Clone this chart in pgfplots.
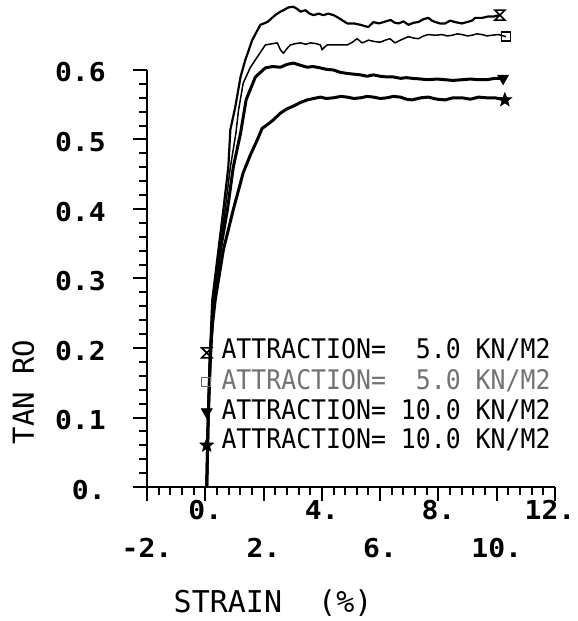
\documentclass[border=0pt]{standalone}
\usepackage{fontspec}
\setmainfont{DejaVu Sans Mono}
\newfontfamily\tickfont{DejaVu Sans Mono}[FakeStretch=1.08]
\newfontfamily\legfont{DejaVu Sans Mono}[FakeStretch=0.92]
\usepackage{pgfplots}
\pgfplotsset{compat=1.18}

\pgfdeclareplotmark{hourglass}{%
  \pgfpathmoveto{\pgfqpoint{-\pgfplotmarksize}{\pgfplotmarksize}}%
  \pgfpathlineto{\pgfqpoint{\pgfplotmarksize}{\pgfplotmarksize}}%
  \pgfpathlineto{\pgfqpoint{-\pgfplotmarksize}{-\pgfplotmarksize}}%
  \pgfpathlineto{\pgfqpoint{\pgfplotmarksize}{-\pgfplotmarksize}}%
  \pgfpathclose
  \pgfusepathqstroke}
\pgfdeclareplotmark{fstar}{%
  \pgfpathmoveto{\pgfpointpolar{90}{\pgfplotmarksize}}%
  \pgfpathlineto{\pgfpointpolar{126}{0.42\pgfplotmarksize}}%
  \pgfpathlineto{\pgfpointpolar{162}{\pgfplotmarksize}}%
  \pgfpathlineto{\pgfpointpolar{198}{0.42\pgfplotmarksize}}%
  \pgfpathlineto{\pgfpointpolar{234}{\pgfplotmarksize}}%
  \pgfpathlineto{\pgfpointpolar{270}{0.42\pgfplotmarksize}}%
  \pgfpathlineto{\pgfpointpolar{306}{\pgfplotmarksize}}%
  \pgfpathlineto{\pgfpointpolar{342}{0.42\pgfplotmarksize}}%
  \pgfpathlineto{\pgfpointpolar{18}{\pgfplotmarksize}}%
  \pgfpathlineto{\pgfpointpolar{54}{0.42\pgfplotmarksize}}%
  \pgfpathclose
  \pgfusepathqfillstroke}

\begin{document}
\begin{tikzpicture}
\begin{axis}[
  at={(0,0)}, anchor=south west,
  scale only axis, width=408bp, height=417bp,
  xmin=-2, xmax=12, ymin=0, ymax=0.6,
  axis lines=left,
  axis line style={-, line width=2.5bp},
  clip=false,
  tick align=outside,
  major tick length=14bp, minor tick length=8bp,
  every tick/.style={black, line width=2bp},
  xtick={0,4,8,12}, xticklabels={0.,4.,8.,\kern-10bp 12.},
  extra x ticks={-2,2,6,10}, extra x tick labels={-2.,2.,6.,10.},
  extra x tick style={xticklabel style={yshift=-38bp}},
  minor xtick={-2,-1.6,...,12},
  ytick={0,0.1,0.2,0.3,0.4,0.5,0.6},
  yticklabels={0.,0.1,0.2,0.3,0.4,0.5,0.6},
  minor y tick num=4,
  ticklabel style={font=\tickfont\bfseries\fontsize{26bp}{28bp}\selectfont, inner sep=0pt},
  xticklabel style={anchor=base, yshift=-18bp},
  yticklabel style={anchor=base east, xshift=-27bp, yshift=-12bp},
  xlabel={STRAIN\ \ (\%)},
  xlabel style={at={(rel axis cs:0.309,-0.2998)}, anchor=base, inner sep=0pt, font=\fontsize{30bp}{32bp}\selectfont},
  ylabel={TAN RO},
  ylabel style={at={(rel axis cs:-0.277,0.228)}, anchor=base, inner sep=0pt, font=\fontsize{29bp}{31bp}\selectfont},
]
% curve 1 (hourglass)
\addplot[black, line width=2.2bp, line join=round] coordinates {
(0.05,0) (0.1,0.1) (0.15,0.18) (0.2,0.23) (0.24,0.269) (0.45,0.341) (0.62,0.399)
(0.79,0.46) (0.86,0.514) (1.03,0.547) (1.21,0.59) (1.37,0.614) (1.61,0.643)
(1.89,0.665) (2.13,0.669) (2.40,0.679) (2.58,0.684) (2.68,0.686) (2.85,0.690)
(3.02,0.691) (3.15,0.688) (3.27,0.684) (3.44,0.686) (3.58,0.681) (3.71,0.679)
(3.90,0.681) (4.05,0.679) (4.22,0.681) (4.40,0.679) (4.57,0.675) (4.72,0.671)
(4.87,0.667) (5.10,0.667) (5.33,0.665) (5.48,0.663) (5.60,0.662) (5.77,0.669)
(5.95,0.667) (6.12,0.669) (6.36,0.672) (6.50,0.668) (6.64,0.667) (6.80,0.670)
(6.97,0.665) (7.15,0.668) (7.31,0.669) (7.48,0.673) (7.65,0.675) (7.78,0.671)
(7.89,0.669) (8.05,0.667) (8.23,0.667) (8.40,0.671) (8.57,0.669) (8.80,0.667)
(8.99,0.669) (9.15,0.671) (9.26,0.675) (9.50,0.675) (9.71,0.677) (9.90,0.677) (10.11,0.679)
};
% curve 2 (square)
\addplot[black, line width=1.5bp, line join=round] coordinates {
(0.05,0) (0.1,0.1) (0.16,0.18) (0.22,0.23) (0.27,0.269) (0.50,0.341) (0.68,0.399)
(0.86,0.46) (1.05,0.509) (1.14,0.542) (1.30,0.581) (1.55,0.604) (1.79,0.619)
(2.06,0.636) (2.32,0.638) (2.47,0.639) (2.58,0.629) (2.68,0.624) (2.75,0.628)
(2.85,0.633) (2.92,0.636) (3.10,0.638) (3.27,0.639) (3.45,0.637) (3.61,0.639)
(3.80,0.638) (3.95,0.636) (4.01,0.629) (4.07,0.632) (4.18,0.636) (4.50,0.636)
(4.87,0.636) (5.05,0.640) (5.21,0.645) (5.38,0.639) (5.50,0.641) (5.60,0.643)
(5.80,0.641) (6.00,0.640) (6.18,0.643) (6.34,0.645) (6.51,0.639) (6.70,0.643)
(6.97,0.648) (7.15,0.646) (7.31,0.645) (7.50,0.649) (7.65,0.651) (7.90,0.650)
(8.12,0.651) (8.30,0.649) (8.47,0.650) (8.65,0.652) (8.81,0.651) (9.00,0.649)
(9.15,0.650) (9.32,0.652) (9.50,0.651) (9.66,0.649) (9.84,0.650) (10.05,0.651) (10.32,0.648)
};
% curve 3 (triangle)
\addplot[black, line width=3bp, line join=round] coordinates {
(0.05,0) (0.1,0.1) (0.17,0.18) (0.22,0.22) (0.27,0.269) (0.52,0.341) (0.76,0.399)
(0.96,0.46) (1.21,0.509) (1.40,0.557) (1.72,0.59) (2.06,0.603) (2.30,0.605)
(2.58,0.604) (2.80,0.608) (3.02,0.610) (3.25,0.607) (3.50,0.604) (3.70,0.605)
(3.95,0.603) (4.15,0.601) (4.40,0.600) (4.60,0.597) (4.87,0.595) (5.10,0.594)
(5.33,0.593) (5.55,0.591) (5.77,0.593) (6.00,0.591) (6.24,0.590) (6.45,0.590)
(6.70,0.588) (6.90,0.589) (7.10,0.588) (7.40,0.587) (7.65,0.586) (7.95,0.587)
(8.23,0.586) (8.50,0.585) (8.81,0.586) (9.10,0.587) (9.38,0.586) (9.65,0.586)
(9.94,0.588) (10.22,0.588)
};
% curve 4 (star)
\addplot[black, line width=3bp, line join=round] coordinates {
(0.05,0) (0.1,0.1) (0.18,0.2) (0.25,0.235) (0.34,0.269) (0.62,0.341) (0.96,0.399)
(1.30,0.452) (1.55,0.478) (1.79,0.5) (1.95,0.516) (2.15,0.522) (2.33,0.528)
(2.58,0.538) (2.80,0.544) (3.02,0.548) (3.25,0.553) (3.50,0.557) (3.72,0.559)
(3.95,0.561) (4.15,0.559) (4.40,0.560) (4.65,0.562) (4.87,0.561) (5.10,0.559)
(5.33,0.560) (5.55,0.562) (5.77,0.561) (6.00,0.559) (6.24,0.560) (6.45,0.562)
(6.70,0.561) (6.90,0.558) (7.10,0.557) (7.40,0.560) (7.65,0.561) (7.95,0.558)
(8.23,0.557) (8.50,0.560) (8.81,0.560) (9.10,0.558) (9.38,0.561) (9.65,0.560)
(9.94,0.560) (10.28,0.557)
};
% end markers
\addplot[only marks, mark=hourglass, mark size=5bp, line width=1.6bp] coordinates {(10.11,0.679)};
\addplot[only marks, mark=square, mark size=4.5bp, line width=1.3bp] coordinates {(10.32,0.648)};
\addplot[only marks, mark=triangle*, mark size=6.5bp, mark options={rotate=180, fill=black}] coordinates {(10.22,0.588)};
\addplot[only marks, mark=fstar, mark size=7.5bp, mark options={fill=black}] coordinates {(10.28,0.557)};
% legend markers
\addplot[only marks, mark=hourglass, mark size=5bp, line width=1.6bp] coordinates {(0.05,0.193)};
\addplot[only marks, mark=square, mark size=4.5bp, line width=1.3bp, black!60] coordinates {(0.02,0.151)};
\addplot[only marks, mark=triangle*, mark size=6.5bp, mark options={rotate=180, fill=black}] coordinates {(0.05,0.108)};
\addplot[only marks, mark=fstar, mark size=7.5bp, mark options={fill=black}] coordinates {(0.05,0.060)};
% legend texts
\node[anchor=base west, inner sep=0pt, font=\legfont\fontsize{27bp}{29bp}\selectfont] at (axis cs:0.55,0.1856) {ATTRACTION= \phantom{1}5.0 KN/M2};
\node[anchor=base west, inner sep=0pt, text=black!55, font=\legfont\fontsize{27bp}{29bp}\selectfont] at (axis cs:0.55,0.1396) {ATTRACTION= \phantom{1}5.0 KN/M2};
\node[anchor=base west, inner sep=0pt, font=\legfont\fontsize{27bp}{29bp}\selectfont] at (axis cs:0.55,0.0978) {ATTRACTION= 10.0 KN/M2};
\node[anchor=base west, inner sep=0pt, font=\legfont\fontsize{27bp}{29bp}\selectfont] at (axis cs:0.55,0.0561) {ATTRACTION= 10.0 KN/M2};
\end{axis}
\pgfresetboundingbox
\path[use as bounding box] (-147bp,-134bp) rectangle (431bp,487bp);
\end{tikzpicture}
\end{document}
